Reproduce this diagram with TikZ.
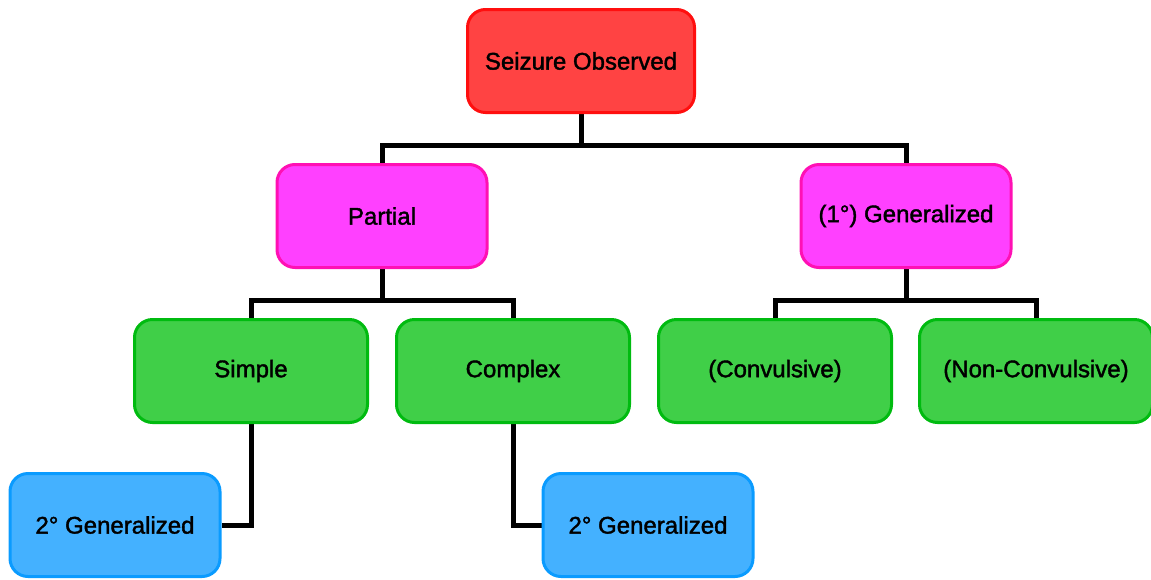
\documentclass[tikz,border=0pt]{standalone}
\usepackage{fontspec}
\setmainfont{Liberation Sans}
\newfontface\boxfont[FakeBold=1.6]{Liberation Sans}
\usetikzlibrary{backgrounds}
\definecolor{redfill}{HTML}{FF4343}
\definecolor{redline}{HTML}{FF0F0F}
\definecolor{pinkfill}{HTML}{FF40FF}
\definecolor{pinkline}{HTML}{FF10B4}
\definecolor{greenfill}{HTML}{40CF48}
\definecolor{greenline}{HTML}{00BB10}
\definecolor{bluefill}{HTML}{44B1FF}
\definecolor{blueline}{HTML}{0A9BFF}
\tikzset{
  box/.style={rectangle, rounded corners=18pt, line width=3pt, minimum height=103pt,
    font=\boxfont\fontsize{24}{28}\selectfont, text=black},
  redbox/.style={box, draw=redline, fill=redfill, minimum width=227pt},
  pinkbox/.style={box, draw=pinkline, fill=pinkfill, minimum width=210pt},
  greenbox/.style={box, draw=greenline, fill=greenfill, minimum width=233pt},
  bluebox/.style={box, draw=blueline, fill=bluefill, minimum width=210pt},
  conn/.style={line width=5pt, black}
}
\begin{document}
\begin{tikzpicture}[x=1pt,y=-1pt]
\useasboundingbox (0,0) rectangle (1151,579);
\node[redbox] (seizure) at (581,61) {Seizure Observed};
\node[pinkbox] (partial) at (382,216) {Partial};
\node[pinkbox] (primary) at (906,216) {(1°) Generalized};
\node[greenbox] (simple) at (251,371) {Simple};
\node[greenbox] (complex) at (513,371) {Complex};
\node[greenbox] (conv) at (775,371) {(Convulsive)};
\node[greenbox] (nonconv) at (1036,371) {(Non-Convulsive)};
\node[bluebox] (secA) at (115,525) {2° Generalized};
\node[bluebox] (secB) at (648,525) {2° Generalized};
\coordinate (busA) at (0,145);
\coordinate (busB) at (0,300);
\begin{scope}[on background layer]
\draw[conn] (seizure.south) -- (seizure.south |- busA) -| (partial.north);
\draw[conn] (seizure.south |- busA) -| (primary.north);
\draw[conn] (partial.south) -- (partial.south |- busB) -| (simple.north);
\draw[conn] (partial.south |- busB) -| (complex.north);
\draw[conn] (primary.south) -- (primary.south |- busB) -| (conv.north);
\draw[conn] (primary.south |- busB) -| (nonconv.north);
\draw[conn] (simple.south) |- (secA.east);
\draw[conn] (complex.south) |- (secB.west);
\end{scope}
\end{tikzpicture}
\end{document}
